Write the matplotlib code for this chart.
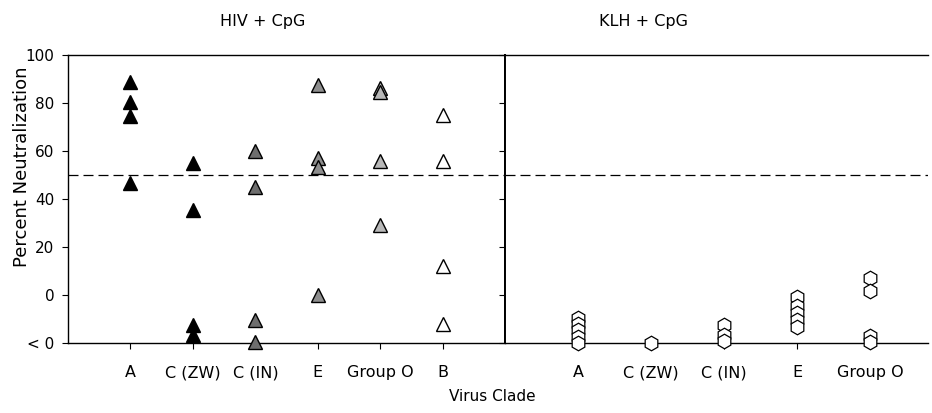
import matplotlib.pyplot as plt

# Percent neutralization per virus clade ("< 0" region is plotted between -20 and 0)
hiv_clades = ["A", "C (ZW)", "C (IN)", "E", "Group O", "B"]
hiv_values = [
    [89, 80.5, 74.5, 46.5],
    [55, 35.5, -12.5, -16.5],
    [60, 45, -10.5, -19.5],
    [87.5, 57, 53.5, 0],
    [86.5, 84.5, 56, 29],
    [75, 56, 12, -12],
]
hiv_colors = ["black", "black", "#6e6e6e", "#8e8e8e", "#b8b8b8", "white"]

klh_clades = ["A", "C (ZW)", "C (IN)", "E", "Group O"]
klh_values = [
    [-9.5, -12, -14.5, -17.5, -20],
    [-20],
    [-12.5, -16.5, -19],
    [-1, -4.5, -7.5, -10.5, -13.5],
    [7, 1.5, -17, -19.5],
]

y_ticks = [-20, 0, 20, 40, 60, 80, 100]
y_labels = ["< 0", "0", "20", "40", "60", "80", "100"]
threshold = 50

plt.rcParams["font.family"] = ["DejaVu Sans"]

fig = plt.figure(figsize=(9.32, 4.13), dpi=100)
ax1 = fig.add_axes([0.073, 0.1695, 0.469, 0.697])
ax2 = fig.add_axes([0.542, 0.1695, 0.454, 0.697], sharey=ax1)

# left panel: HIV + CpG
for i, (vals, col) in enumerate(zip(hiv_values, hiv_colors)):
    ax1.plot([i + 1] * len(vals), vals, linestyle="none", marker="^",
             markersize=10.5, markerfacecolor=col, markeredgecolor="black",
             markeredgewidth=1.0, zorder=3, clip_on=False)
ax1.set_xlim(0, len(hiv_clades) + 1)
ax1.set_xticks(range(1, len(hiv_clades) + 1))
ax1.set_xticklabels(hiv_clades)

# right panel: KLH + CpG
for i, vals in enumerate(klh_values):
    ax2.plot([i + 1] * len(vals), vals, linestyle="none", marker="h",
             markersize=10.5, markerfacecolor="white", markeredgecolor="black",
             markeredgewidth=0.9, zorder=3, clip_on=False)
ax2.set_xlim(0, 5.8)
ax2.set_xticks(range(1, len(klh_clades) + 1))
ax2.set_xticklabels(klh_clades)

ax1.set_ylim(-20, 100)
ax1.set_yticks(y_ticks)
ax1.set_yticklabels(y_labels)

for ax in (ax1, ax2):
    ax.axhline(threshold, color="black", linestyle=(0, (8, 4)), linewidth=0.9, zorder=1)
    ax.tick_params(axis="x", length=4, pad=12, labelsize=11.5, direction="out")
    ax.tick_params(axis="y", length=4, pad=6, labelsize=11, direction="out")
    for s in ax.spines.values():
        s.set_linewidth(1.0)

ax1.spines["right"].set_linewidth(1.4)
ax2.spines["left"].set_linewidth(1.4)
ax2.spines["right"].set_visible(False)
ax2.tick_params(axis="y", labelleft=False)

fig.text(0.024, 1 - 167 / 413, "Percent Neutralization", rotation=90,
         ha="center", va="center", fontsize=13)
fig.text(0.282, 0.947, "HIV + CpG", ha="center", va="center", fontsize=11.5)
fig.text(0.69, 0.947, "KLH + CpG", ha="center", va="center", fontsize=11.5)
fig.text(0.528, 0.039, "Virus Clade", ha="center", va="center", fontsize=11)

fig.savefig("out.png", dpi=100)
